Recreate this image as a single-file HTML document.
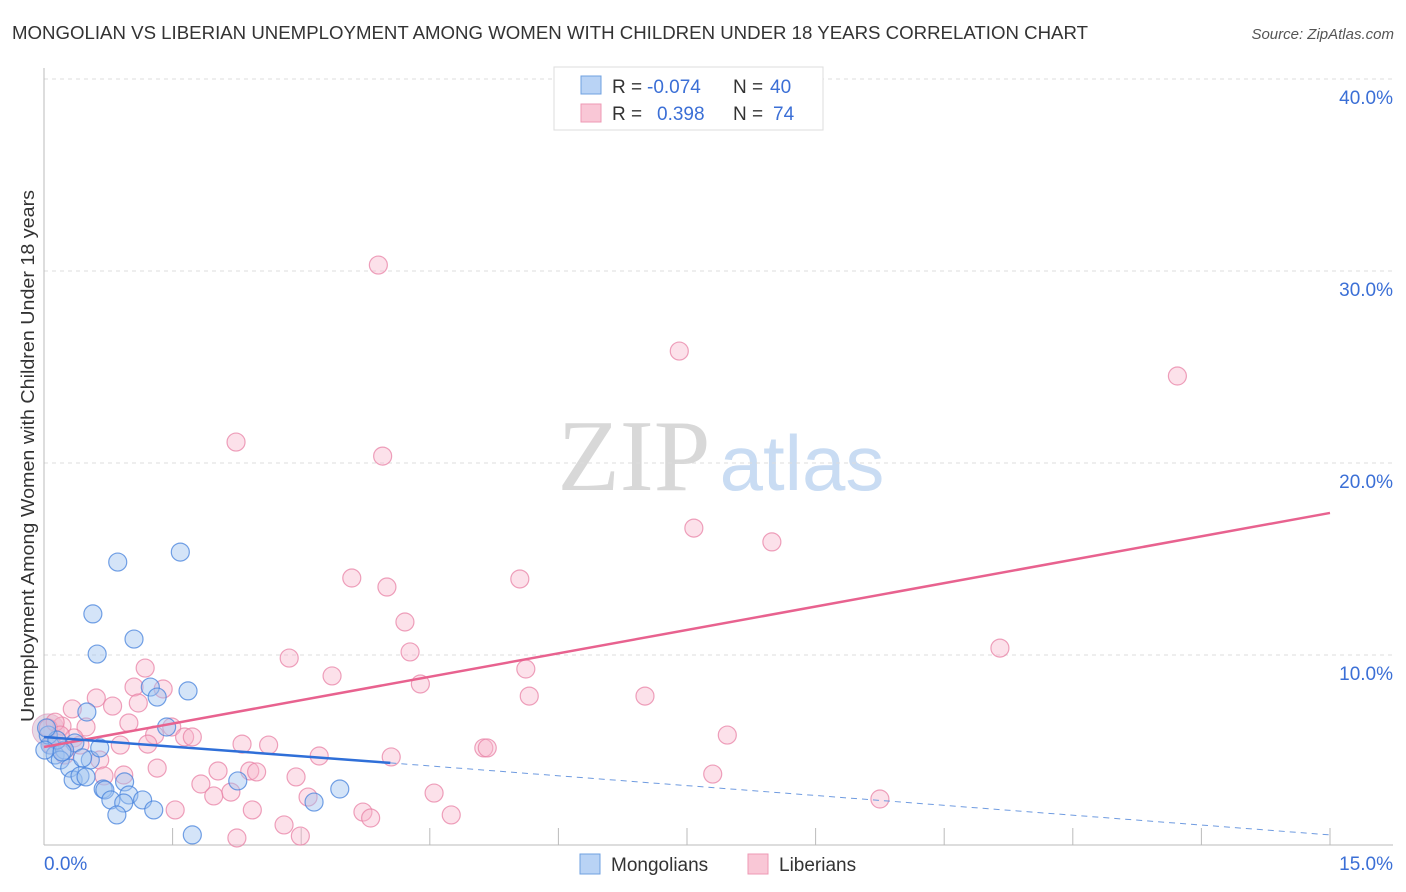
<!DOCTYPE html>
<html><head><meta charset="utf-8"><style>
body{margin:0;background:#fff;font-family:"Liberation Sans",sans-serif;}
#wrap{position:relative;width:1406px;height:892px;overflow:hidden}
</style></head><body>
<div id="wrap">
<svg id="svg" width="1406" height="892" xmlns="http://www.w3.org/2000/svg">
<text x="12" y="39" font-size="18" fill="#333" textLength="1076" lengthAdjust="spacingAndGlyphs">MONGOLIAN VS LIBERIAN UNEMPLOYMENT AMONG WOMEN WITH CHILDREN UNDER 18 YEARS CORRELATION CHART</text>
<text x="1394" y="39" font-size="15" fill="#555" font-style="italic" text-anchor="end">Source: ZipAtlas.com</text>
<text x="634" y="490" font-size="102" fill="#d8d8d8" font-family="Liberation Serif,serif" text-anchor="middle">ZIP</text>
<text x="802" y="490" font-size="78" fill="#c9dcf3" text-anchor="middle">atlas</text>
<text transform="translate(34,456) rotate(-90)" font-size="18" fill="#333" text-anchor="middle" textLength="532" lengthAdjust="spacingAndGlyphs">Unemployment Among Women with Children Under 18 years</text>
<g id="grid"></g><g id="pts"></g><g id="lines"></g>
<g>
<rect x="554" y="67" width="269" height="63" fill="#fff" stroke="#ddd"/>
<rect x="581" y="76" width="20" height="18" fill="#b9d3f5" stroke="#6fa0e0"/>
<rect x="581" y="104" width="20" height="18" fill="#f9c7d6" stroke="#ee99b4"/>
<text x="612" y="93" font-size="19" fill="#333">R =</text>
<text x="647" y="93" font-size="19" fill="#3b6fd6">-0.074</text>
<text x="733" y="93" font-size="19" fill="#333">N =</text>
<text x="770" y="93" font-size="19" fill="#3b6fd6">40</text>
<text x="612" y="120" font-size="19" fill="#333">R =</text>
<text x="657" y="120" font-size="19" fill="#3b6fd6">0.398</text>
<text x="733" y="120" font-size="19" fill="#333">N =</text>
<text x="773" y="120" font-size="19" fill="#3b6fd6">74</text>
</g>
<g>
<rect x="580" y="854" width="20" height="20" fill="#b9d3f5" stroke="#6fa0e0"/>
<text x="611" y="871" font-size="19" fill="#333">Mongolians</text>
<rect x="748" y="854" width="20" height="20" fill="#f9c7d6" stroke="#ee99b4"/>
<text x="779" y="871" font-size="19" fill="#333">Liberians</text>
</g>
</svg>
</div>
<script>
const blueX=[0.86,1.59,0.57,0.62,1.05,1.24,1.68,1.32,1.43,0.50,0.07,0.36,0.13,0.24,0.19,0.54,0.30,0.34,0.42,0.49,0.69,0.71,0.94,0.78,0.99,0.93,1.15,0.85,1.28,2.26,3.45,3.15,1.73,0.05,0.15,0.01,0.21,0.65,0.45,0.03];
const blueY=[14.84,15.36,12.14,10.05,10.83,8.33,8.13,7.81,6.25,7.03,5.31,5.42,4.79,5.05,4.53,4.53,4.11,3.49,3.70,3.65,3.02,2.97,3.39,2.45,2.71,2.29,2.45,1.67,1.93,3.44,3.02,2.34,0.63,5.83,5.57,5.05,4.95,5.16,4.64,6.2];
const pinkX=[3.90,7.41,13.22,2.24,3.95,7.58,8.49,3.59,5.55,4.00,4.21,11.15,2.86,4.27,1.18,3.36,5.62,4.39,0.61,1.05,1.39,5.66,7.01,0.80,1.10,0.33,0.99,1.49,0.21,0.49,1.64,1.29,1.73,7.97,0.35,0.42,0.89,1.21,2.31,2.62,3.21,4.05,5.13,5.17,0.65,1.32,2.03,2.40,2.48,0.70,0.93,7.80,2.94,1.83,2.18,1.98,3.08,4.55,9.75,1.53,2.43,3.72,4.75,3.81,2.80,2.25,2.99,0.05,0.13,0.19,0.09,0.24];
const pinkY=[30.31,25.83,24.53,21.09,20.36,16.61,15.89,14.01,13.96,13.54,11.72,10.36,9.84,10.16,9.32,8.91,9.27,8.49,7.76,8.33,8.23,7.86,7.86,7.34,7.5,7.19,6.46,6.25,6.30,6.25,5.73,5.83,5.73,5.83,5.68,5.31,5.31,5.36,5.36,5.31,4.74,4.69,5.16,5.16,4.53,4.11,3.96,3.96,3.91,3.70,3.75,3.80,3.65,3.28,2.86,2.66,2.60,2.81,2.5,1.93,1.93,1.82,1.67,1.51,1.15,0.47,0.57,6.2,6.5,5.83,5.31,4.79];
const blueTrend=[[0,5.73],[4.04,4.38],[15,0.63]];
const pinkTrend=[[0,5.21],[15,17.4]];
const yTicks=[10,20,30,40];
const yTickLabels=["10.0%","20.0%","30.0%","40.0%"];
const xTickVals=[1.5,3,4.5,6,7.5,9,10.5,12,13.5,15];
const NS="http://www.w3.org/2000/svg";
const sx=v=>44+v/15*1286, sy=v=>847-v*19.2;
function mk(t,a,p){const e=document.createElementNS(NS,t);for(const k in a)e.setAttribute(k,a[k]);p.appendChild(e);return e;}
const grid=document.getElementById('grid'),pts=document.getElementById('pts'),lines=document.getElementById('lines');
yTicks.forEach((v,i)=>{
 const l=mk('line',{x1:44,x2:1393,y1:sy(v),y2:sy(v),stroke:'#ddd','stroke-dasharray':'4,4'},grid);
 
 
 const t=mk('text',{x:1393,y:sy(v)+25,'font-size':19,fill:'#3b6fd6','text-anchor':'end'},grid);t.textContent=yTickLabels[i];
 
 
});
mk('line',{x1:44,x2:44,y1:68,y2:845,stroke:'#bbb'},grid);
mk('line',{x1:44,x2:1393,y1:845,y2:845,stroke:'#bbb'},grid);
xTickVals.forEach(v=>{const l=mk('line',{x1:sx(v),x2:sx(v),y1:828,y2:845,stroke:'#bbb'},grid);
 
 });
let t0=mk('text',{x:44,y:870,'font-size':19,fill:'#3b6fd6'},grid);t0.textContent='0.0%';


let t1=mk('text',{x:1393,y:870,'font-size':19,fill:'#3b6fd6','text-anchor':'end'},grid);t1.textContent='15.0%';


let big=mk('circle',{cx:sx(0.05),cy:sy(6.1),r:16,fill:'rgba(200,170,200,0.45)',stroke:'rgba(220,140,180,0.6)'},pts);


pinkX.forEach((x,i)=>{const c=mk('circle',{cx:sx(x),cy:sy(pinkY[i]),r:9,fill:'rgba(248,180,202,0.4)',stroke:'rgba(232,130,165,0.75)','stroke-width':1.2},pts);
 
 });
blueX.forEach((x,i)=>{const c=mk('circle',{cx:sx(x),cy:sy(blueY[i]),r:9,fill:'rgba(160,196,240,0.45)',stroke:'rgba(70,130,220,0.75)','stroke-width':1.2},pts);
 
 });
let pl=mk('line',{x1:sx(pinkTrend[0][0]),y1:sy(pinkTrend[0][1]),x2:sx(pinkTrend[1][0]),y2:sy(pinkTrend[1][1]),stroke:'#e8628f','stroke-width':2.5},lines);


let bl=mk('line',{x1:sx(blueTrend[0][0]),y1:sy(blueTrend[0][1]),x2:sx(blueTrend[1][0]),y2:sy(blueTrend[1][1]),stroke:'#2f6fd8','stroke-width':2.5},lines);


let bd=mk('line',{x1:sx(blueTrend[1][0]),y1:sy(blueTrend[1][1]),x2:sx(blueTrend[2][0]),y2:sy(blueTrend[2][1]),stroke:'#6f9be0','stroke-width':1,'stroke-dasharray':'6,5'},lines);


</script>
</body></html>
